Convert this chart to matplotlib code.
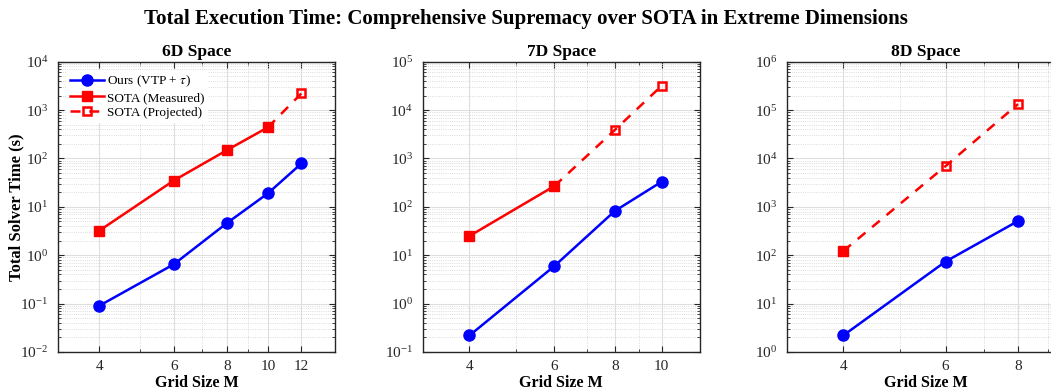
import numpy as np
import matplotlib.pyplot as plt
from matplotlib.ticker import FixedLocator, LogLocator, NullFormatter, LogFormatterSciNotation

plt.rcParams['font.family'] = ['Liberation Serif', 'DejaVu Serif']
plt.rcParams['mathtext.fontset'] = 'stix'

# 6D
M_6d = [4, 6, 8, 10, 12]
ours_6d = [0.09, 0.65, 4.6, 19, 79]
sota_meas_6d = [3.2, 35, 148, 440]
sota_proj_6d = [440, 2220]

# 7D
M_7d = [4, 6, 8, 10]
ours_7d = [0.22, 6.0, 82, 330]
sota_meas_7d = [25, 270]
sota_proj_7d = [270, 3870, 31600]

# 8D
M_8d = [4, 6, 8]
ours_8d = [2.2, 74, 510]
sota_meas_8d = [122]
sota_proj_8d = [122, 6950, 133000]

panels = [
    ('6D Space', M_6d, ours_6d, sota_meas_6d, sota_proj_6d, (1e-2, 1e4)),
    ('7D Space', M_7d, ours_7d, sota_meas_7d, sota_proj_7d, (1e-1, 1e5)),
    ('8D Space', M_8d, ours_8d, sota_meas_8d, sota_proj_8d, (1e0, 1e6)),
]

fig = plt.figure(figsize=(10.51, 3.91), dpi=100)
fig.suptitle('Total Execution Time: Comprehensive Supremacy over SOTA in Extreme Dimensions',
             fontsize=15, fontweight='bold', y=0.978)

lefts = [0.0552, 0.4022, 0.7488]
axc = '#262626'

for i, (title, M, ours, meas, proj, ylim) in enumerate(panels):
    ax = fig.add_axes([lefts[i], 0.0997, 0.2636, 0.7425])
    n_meas = len(meas)
    ax.plot(M, ours, '-o', color='blue', lw=1.8, ms=8, label=r'Ours (VTP + $\tau$)', zorder=4)
    ax.plot(M[:n_meas], meas, '-s', color='red', lw=1.8, ms=6.5, label='SOTA (Measured)', zorder=4)
    ax.plot(M[n_meas - 1:], proj, '--s', color='red', lw=1.8, ms=6, mfc='none', mew=1.8,
            dashes=(4, 3.5), label='SOTA (Projected)', zorder=3)

    ax.set_xscale('log')
    ax.set_yscale('log')
    ax.set_xlim(M[0] * 0.8, M[-1] * 1.2)
    ax.set_ylim(*ylim)
    ax.xaxis.set_major_locator(FixedLocator(M))
    ax.xaxis.set_major_formatter(plt.FixedFormatter([str(m) for m in M]))
    ax.xaxis.set_minor_locator(LogLocator(subs=np.arange(2, 10)))
    ax.xaxis.set_minor_formatter(NullFormatter())
    ax.yaxis.set_major_locator(LogLocator(numticks=20))
    ax.yaxis.set_major_formatter(LogFormatterSciNotation())
    ax.yaxis.set_minor_locator(LogLocator(subs=np.arange(2, 10), numticks=20))
    ax.yaxis.set_minor_formatter(NullFormatter())

    ax.grid(True, which='major', color='#dedede', lw=0.8, ls='-')
    ax.grid(True, which='minor', color='#d0d0d0', lw=0.6, ls=':')
    ax.set_axisbelow(True)

    ax.tick_params(which='both', direction='in', top=True, right=True, colors=axc, labelsize=11)
    ax.tick_params(which='major', length=4)
    ax.tick_params(which='minor', length=2)
    ax.tick_params(axis='x', which='major', pad=6)
    ax.tick_params(axis='y', which='major', pad=7)
    for s in ax.spines.values():
        s.set_color(axc)
        s.set_linewidth(1.0)

    ax.set_title(title, fontsize=12.5, fontweight='bold', pad=4)
    ax.set_xlabel('Grid Size M', fontsize=11.5, fontweight='bold')
    ax.xaxis.set_label_coords(0.5, -0.08)
    if i == 0:
        ax.set_ylabel('Total Solver Time (s)', fontsize=12, fontweight='bold')
        ax.yaxis.set_label_coords(-0.12, 0.5)
        leg = ax.legend(loc='upper left', fontsize=9.5, frameon=True, fancybox=False,
                        edgecolor='none', framealpha=1.0, handlelength=2.6,
                        borderaxespad=0.6, labelspacing=0.2, handletextpad=0.2,
                        borderpad=0.3)

fig.savefig('out.png', dpi=100)
